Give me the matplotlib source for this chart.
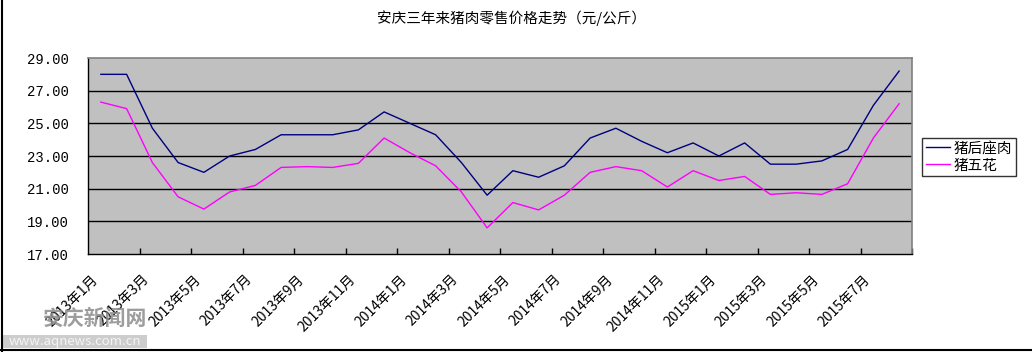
import matplotlib
matplotlib.use("Agg")
import matplotlib.pyplot as plt
from matplotlib.lines import Line2D
from matplotlib.patches import Rectangle

plt.rcParams['font.family'] = ['Noto Sans CJK SC', 'DejaVu Sans']

# === 数据 ===
months = [f"{y}年{m}月" for y in (2013, 2014, 2015) for m in range(1, 13)][:32]
houzuo = [28.0, 28.0, 24.7, 22.6, 22.0, 23.0, 23.4, 24.3, 24.3, 24.3, 24.6, 25.7,
          25.0, 24.3, 22.6, 20.6, 22.1, 21.7, 22.4, 24.1, 24.7, 23.9, 23.2, 23.8,
          23.0, 23.8, 22.5, 22.5, 22.7, 23.4, 26.1, 28.2]
wuhua = [26.3, 25.9, 22.6, 20.5, 19.75, 20.8, 21.2, 22.3, 22.35, 22.3, 22.55, 24.1,
         23.2, 22.4, 20.8, 18.6, 20.15, 19.7, 20.6, 22.0, 22.35, 22.1, 21.1, 22.1,
         21.5, 21.75, 20.65, 20.75, 20.65, 21.3, 24.1, 26.2]
series_names = ["猪后座肉", "猪五花"]
yticks = [17, 19, 21, 23, 25, 27, 29]

# === 画布 ===
fig = plt.figure(figsize=(10.32, 3.52), dpi=100)
ax = fig.add_axes([88/1032, 1 - 254/352, 824/1032, 196/352])
ax.set_facecolor('#c0c0c0')

x = list(range(len(months)))
ax.plot(x, houzuo, color='#000080', lw=1, label=series_names[0])
ax.plot(x, wuhua, color='#ff00ff', lw=1, label=series_names[1])

ax.set_xlim(-0.5, len(months) - 0.5)
ax.set_ylim(17, 29)

# 网格线
for v in yticks[1:-1]:
    ax.axhline(v, color='black', lw=1, zorder=1)

ax.set_yticks(yticks)
ax.set_yticklabels([f"{v:.2f}" for v in yticks], family='Liberation Mono', fontsize=10)
ax.tick_params(axis='y', length=0, pad=14)

# 标签稍微左移 (Excel 斜排标签的对齐方式)
ax.set_xticks([i - 0.4 for i in x[::2]])
ax.set_xticklabels(months[::2], rotation=45, ha='right', rotation_mode='anchor',
                   fontsize=10)
ax.tick_params(axis='x', which='major', length=0, pad=13)
ax.set_xticks([i + 1.5 for i in range(0, len(months), 2)], minor=True)
ax.tick_params(axis='x', which='minor', direction='in', length=4, width=1, color='black')

for s in ('left', 'bottom'):
    ax.spines[s].set_color('black')
    ax.spines[s].set_linewidth(1)
for s in ('top', 'right'):
    ax.spines[s].set_color('#808080')
    ax.spines[s].set_linewidth(1.2)

fig.text(511/1032, 1 - 18/352, "安庆三年来猪肉零售价格走势（元/公斤）",
         ha='center', va='center', fontsize=10.5)

handles = [Line2D([], [], color='#000080', lw=1), Line2D([], [], color='#ff00ff', lw=1)]
leg = fig.legend(handles, series_names, loc='center left',
                 bbox_to_anchor=(922/1032, 1 - 157/352), fontsize=10.5,
                 handlelength=1.7, handletextpad=0.2, borderpad=0.25,
                 labelspacing=0.2, fancybox=False, frameon=True, borderaxespad=0)
leg.get_frame().set_edgecolor('black')
leg.get_frame().set_linewidth(1)

# 外框 (左、下)
fig.add_artist(Line2D([1.5/1032, 1.5/1032], [0, 1], color='black', lw=1.5))
fig.add_artist(Line2D([0, 1], [2/352, 2/352], color='black', lw=1.5))

# 水印
fig.patches.append(Rectangle((2/1032, 4/352), 145/1032, 13/352, transform=fig.transFigure,
                             facecolor='#c8c8c8', edgecolor='none', alpha=0.9))
fig.text(75/1032, 10.5/352, "www.aqnews.com.cn", ha='center', va='center',
         fontsize=9.5, color='#f4f4f4')
fig.text(95/1032, 1 - 318/352, "安庆新闻网", ha='center', va='center',
         fontsize=15, fontweight='bold', color='#8c8c8c', alpha=0.85)

fig.savefig("out.png", dpi=100)
